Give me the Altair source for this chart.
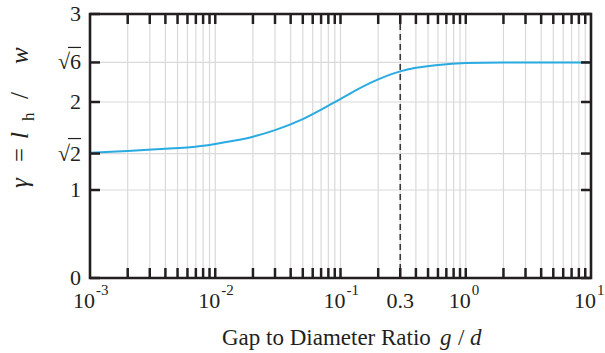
import math
import altair as alt
import pandas as pd

# ---------------- data ----------------
gap_ratio = [0.001, 0.002, 0.004, 0.0063, 0.01, 0.014, 0.02, 0.03, 0.05, 0.09, 0.13, 0.2, 0.3, 0.4, 0.6, 1.0, 2.0, 10.0]
gamma = [1.424, 1.443, 1.470, 1.485, 1.523, 1.559, 1.606, 1.68, 1.805, 1.998, 2.127, 2.257, 2.348, 2.388, 2.421, 2.442, 2.448, 2.449]

x_minor = [m * 10.0 ** e for e in range(-3, 1) for m in range(1, 10)][1:]   # 2e-3 ... 9e0
y_tick_vals = [0, 1, math.sqrt(2), 2, math.sqrt(6), 3]
y_tick_text = ["0", "1", "√2", "2", "√6", "3"]
y_root_vals = [math.sqrt(2), math.sqrt(6)]
x_dec_vals = [0.001, 0.01, 0.1, 1.0, 10.0]
x_dec_exp = ["-3", "-2", "-1", "0", "1"]
x_extra_vals = [0.3]
x_extra_text = ["0.3"]
crit_ratio = [0.3]

W, H = 501, 264
FONT = "Liberation Serif, Times New Roman, Times, DejaVu Serif, serif"
INK = "#231f20"
GRID = "#d9d9d9"
BLUE = "#29abe2"

xs = alt.Scale(type="log", domain=[0.001, 10])
ys = alt.Scale(domain=[0, 3])

df_curve = pd.DataFrame({"x": gap_ratio, "y": gamma})
df_xm = pd.DataFrame({"x": x_minor})
df_yt = pd.DataFrame({"y": y_tick_vals, "t": y_tick_text})
df_yg = pd.DataFrame({"y": y_tick_vals[1:-1]})
df_root = pd.DataFrame({"y": y_root_vals})
df_dec = pd.DataFrame({"x": x_dec_vals, "e": x_dec_exp})
df_extra = pd.DataFrame({"x": x_extra_vals, "t": x_extra_text})
df_crit = pd.DataFrame({"x": crit_ratio})
one = pd.DataFrame({"a": [0]})

X = lambda: alt.X("x:Q", scale=xs, axis=None)
Y = lambda: alt.Y("y:Q", scale=ys, axis=None)

grid_v = alt.Chart(df_xm).mark_rule(color=GRID, strokeWidth=1.2).encode(
    x=X(), y=alt.value(0), y2=alt.value(H))
grid_h = alt.Chart(df_yg).mark_rule(color=GRID, strokeWidth=1.2).encode(
    y=Y(), x=alt.value(0), x2=alt.value(W))

curve = alt.Chart(df_curve).mark_line(color=BLUE, strokeWidth=2, interpolate="monotone").encode(
    x=X(), y=Y())

crit = alt.Chart(df_crit).mark_rule(color="#3a3a3a", strokeWidth=1.6, strokeDash=[6, 4]).encode(
    x=X(), y=alt.value(0), y2=alt.value(H))

tick_b = alt.Chart(df_xm).mark_rule(color=INK, strokeWidth=2.5).encode(
    x=X(), y=alt.value(H), y2=alt.value(H - 10))
tick_t = alt.Chart(df_xm).mark_rule(color=INK, strokeWidth=2.5).encode(
    x=X(), y=alt.value(0), y2=alt.value(10))
tick_l = alt.Chart(df_yt).mark_rule(color=INK, strokeWidth=2.5).encode(
    y=Y(), x=alt.value(0), x2=alt.value(10))
tick_r = alt.Chart(df_yt).mark_rule(color=INK, strokeWidth=2.5).encode(
    y=Y(), x=alt.value(W), x2=alt.value(W - 10))

frame = alt.Chart(one).mark_rect(filled=False, stroke=INK, strokeWidth=2.6).encode(
    x=alt.value(0), x2=alt.value(W), y=alt.value(0), y2=alt.value(H))

ylab = alt.Chart(df_yt).mark_text(font=FONT, fontSize=22, color=INK, align="right", baseline="middle").encode(
    y=Y(), x=alt.value(-9), text="t:N")
root_bar = alt.Chart(df_root).mark_rule(color=INK, strokeWidth=1.2, yOffset=-15).encode(
    y=Y(), x=alt.value(-22), x2=alt.value(-9))

xlab10 = alt.Chart(df_dec).mark_text(font=FONT, fontSize=22, color=INK, align="right", baseline="alphabetic", dx=5, text="10").encode(
    x=X(), y=alt.value(294))
xlabexp = alt.Chart(df_dec).mark_text(font=FONT, fontSize=15, color=INK, align="left", baseline="alphabetic", dx=6).encode(
    x=X(), y=alt.value(281), text="e:N")
xlabextra = alt.Chart(df_extra).mark_text(font=FONT, fontSize=22, color=INK, align="center", baseline="alphabetic").encode(
    x=X(), y=alt.value(294), text="t:N")


def label(text, x, y, size=23, style="normal", angle=0):
    return alt.Chart(one).mark_text(text=text, font=FONT, fontSize=size, fontStyle=style, angle=angle,
                                    align="left", baseline="alphabetic", color=INK).encode(
        x=alt.value(x), y=alt.value(y))


xtitle = [
    label("Gap to Diameter Ratio", 132, 331),
    label("g", 350, 331, style="italic"),
    label("/", 368, 331),
    label("d", 380, 331, style="italic"),
]
ytitle = [
    label("γ", -62, 174, size=25, style="italic", angle=270),
    label("=", -62, 148, size=25, angle=270),
    label("l", -62, 125, size=25, style="italic", angle=270),
    label("h", -56, 107, size=17, angle=270),
    label("/", -62, 85, size=25, angle=270),
    label("w", -62, 50, size=25, style="italic", angle=270),
]

chart = alt.layer(
    grid_v, grid_h, curve, crit, tick_b, tick_t, tick_l, tick_r, frame,
    ylab, root_bar, xlab10, xlabexp, xlabextra, *xtitle, *ytitle
).properties(
    width=W, height=H,
    autosize=alt.AutoSizeParams(type="none"),
    padding={"left": 90, "top": 14, "right": 14, "bottom": 75},
    background="white",
).configure_view(stroke=None)

chart.save("out.html", embed_options={"renderer": "svg", "actions": False})
